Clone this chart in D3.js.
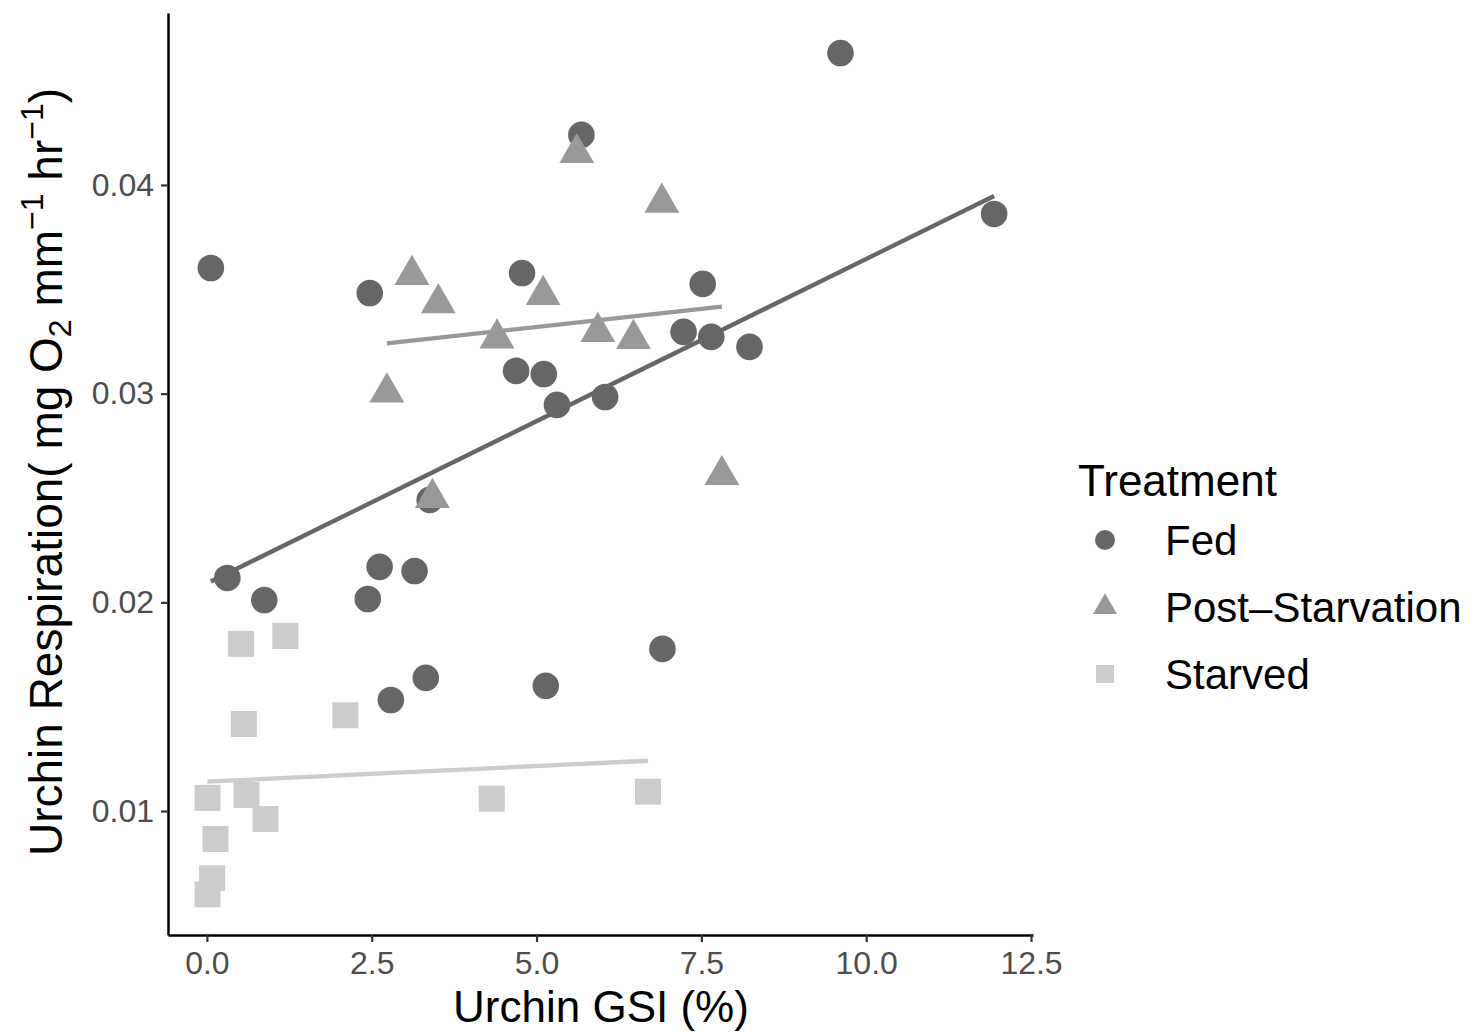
<!DOCTYPE html>
<html>
<head>
<meta charset="utf-8">
<script src="https://cdn.jsdelivr.net/npm/d3@7"></script>
<style>
  body { margin: 0; background: #fff; }
  svg { font-family: "Liberation Sans", Arial, sans-serif; }
</style>
</head>
<body>
<script>
// values
const treatments = ["Fed", "Post\u2013Starvation", "Starved"];

const fedGSI  = [0.06, 0.31, 0.87, 2.47, 2.44, 2.62, 3.15, 2.79, 3.32, 3.38, 4.78, 4.69,
                 5.11, 5.31, 5.68, 5.14, 6.04, 6.91, 7.23, 7.52, 7.65, 8.23, 9.61, 11.94];
const fedResp = [0.03602, 0.02117, 0.02011, 0.03482, 0.02016, 0.02170, 0.02150, 0.01532,
                 0.01638, 0.02491, 0.03578, 0.03109, 0.03094, 0.02946, 0.04240, 0.01600,
                 0.02984, 0.01777, 0.03296, 0.03526, 0.03272, 0.03224, 0.04632, 0.03861];

const postGSI  = [3.11, 3.51, 5.10, 4.40, 5.93, 6.47, 2.73, 5.61, 6.90, 7.81, 3.42];
const postResp = [0.03569, 0.03433, 0.03473, 0.03265, 0.03296, 0.03262, 0.03006,
                  0.04153, 0.03915, 0.02610, 0.02500];

const starvedGSI  = [0.52, 1.19, 0.56, 2.10, 0.01, 0.60, 0.89, 0.13, 0.08, 0.01, 4.32, 6.69];
const starvedResp = [0.01801, 0.01839, 0.01417, 0.01459, 0.01063, 0.01077, 0.00962,
                     0.00866, 0.00678, 0.00601, 0.01059, 0.01093];

// lm fit lines (end points)
const fedFit     = [[0.06, 0.02100], [11.94, 0.03947]];
const postFit    = [[2.73, 0.03241], [7.81, 0.03417]];
const starvedFit = [[0.01, 0.01141], [6.69, 0.01241]];

const xTicks = [0, 2.5, 5, 7.5, 10, 12.5];
const yTicks = [0.01, 0.02, 0.03, 0.04];

const colors = ["#666666", "#999999", "#cccccc"];

const width = 1483, height = 1032;
const svg = d3.select("body").append("svg")
    .attr("width", width)
    .attr("height", height);

const x = d3.scaleLinear().domain([-0.59, 12.53]).range([168, 1033]);
const y = d3.scaleLinear().domain([0.00406, 0.04824]).range([935, 13]);

const zip = (a, b) => a.map((v, i) => [v, b[i]]);
const groups = [
  { pts: zip(fedGSI, fedResp), fit: fedFit, shape: "circle" },
  { pts: zip(postGSI, postResp), fit: postFit, shape: "triangle" },
  { pts: zip(starvedGSI, starvedResp), fit: starvedFit, shape: "square" }
];

function drawShape(g, shape, cx, cy, s, fill) {
  if (shape === "circle") {
    g.append("circle").attr("cx", cx).attr("cy", cy).attr("r", s).attr("fill", fill);
  } else if (shape === "triangle") {
    // centroid at (cx, cy), like R pch 17
    const r = s * 1.15, h = r * Math.sqrt(3) / 2;
    g.append("path")
      .attr("d", `M${cx},${cy - r}L${cx + h},${cy + r / 2}L${cx - h},${cy + r / 2}Z`)
      .attr("fill", fill);
  } else {
    g.append("rect").attr("x", cx - s).attr("y", cy - s)
      .attr("width", 2 * s).attr("height", 2 * s).attr("fill", fill);
  }
}

// points
const pg = svg.append("g");
groups.forEach((grp, i) => {
  const size = grp.shape === "circle" ? 13.3 : (grp.shape === "triangle" ? 17.5 : 13);
  grp.pts.forEach(d => drawShape(pg, grp.shape, x(d[0]), y(d[1]), size, colors[i]));
});

// fit lines
const line = d3.line().x(d => x(d[0])).y(d => y(d[1]));
groups.forEach((grp, i) => {
  svg.append("path")
    .attr("d", line(grp.fit))
    .attr("fill", "none")
    .attr("stroke", colors[i])
    .attr("stroke-width", 4.3);
});

// axes
const xAxis = svg.append("g")
    .attr("transform", "translate(0,935)")
    .call(d3.axisBottom(x).tickValues(xTicks).tickFormat(d3.format(".1f"))
      .tickSize(7).tickPadding(6).tickSizeOuter(0));
const yAxis = svg.append("g")
    .attr("transform", "translate(168,0)")
    .call(d3.axisLeft(y).tickValues(yTicks).tickFormat(d3.format(".2f"))
      .tickSize(7).tickPadding(7).tickSizeOuter(0));

[xAxis, yAxis].forEach(a => {
  a.select(".domain").attr("stroke", "#000").attr("stroke-width", 2.5);
  a.selectAll(".tick line").attr("stroke", "#333").attr("stroke-width", 2.2);
  a.selectAll(".tick text").attr("fill", "#4d4d4d").style("font-size", "32px");
});
xAxis.selectAll(".tick text").attr("dy", "0.82em");

// axis titles
svg.append("text")
    .attr("x", 601).attr("y", 1022)
    .attr("text-anchor", "middle")
    .style("font-size", "44px")
    .text("Urchin GSI (%)");

const yt = svg.append("text")
    .attr("transform", "translate(62,472) rotate(-90)")
    .attr("text-anchor", "middle")
    .style("font-size", "46px");
yt.append("tspan").text("Urchin Respiration( mg O");
yt.append("tspan").attr("dy", 9).style("font-size", "32px").text("2");
yt.append("tspan").attr("dy", -9).text(" mm");
yt.append("tspan").attr("dy", -19).style("font-size", "32px").text("\u22121");
yt.append("tspan").attr("dy", 19).text(" hr");
yt.append("tspan").attr("dy", -19).style("font-size", "32px").text("\u22121");
yt.append("tspan").attr("dy", 19).text(")");

// legend
const lg = svg.append("g");
lg.append("text").attr("x", 1078).attr("y", 496)
    .style("font-size", "44px").text("Treatment");
const legY = [540, 607, 674];
const legSize = [10, 12, 9];
treatments.forEach((t, i) => {
  drawShape(lg, groups[i].shape, 1105, legY[i], legSize[i], colors[i]);
  lg.append("text").attr("x", 1165).attr("y", legY[i] + 15)
    .style("font-size", "42px").text(t);
});
</script>
</body>
</html>
